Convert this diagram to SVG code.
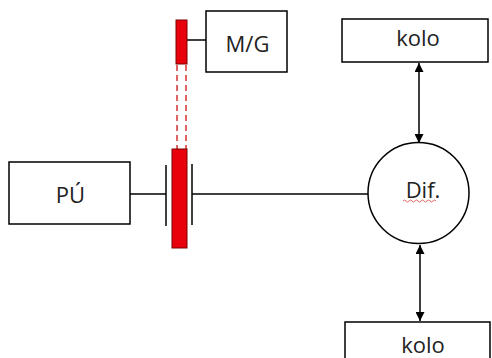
<svg xmlns="http://www.w3.org/2000/svg" width="492" height="358" viewBox="0 0 492 358">
<style>
.box{fill:#fff;stroke:#000;stroke-width:1.5}
.ln{stroke:#000;stroke-width:1.5;fill:none}
.red{fill:#e8000b;stroke:#7a0000;stroke-width:1}
.dash{stroke:#d01010;stroke-width:1.3;stroke-dasharray:6,4;fill:none}
.t{font-family:"Open Sans","Liberation Sans",sans-serif;font-size:22px;fill:#222;text-anchor:middle}
</style>
<defs>
<marker id="ah" viewBox="0 0 10 10" refX="10" refY="5" markerWidth="9" markerHeight="9" markerUnits="userSpaceOnUse" orient="auto-start-reverse">
<path d="M0,0L10,5L0,10z" fill="#000"/>
</marker>
</defs>
<rect width="492" height="358" fill="#fff"/>
<g id="connectors">
<line class="ln" x1="187" y1="40" x2="206" y2="40"/>
<line class="dash" x1="177" y1="65" x2="177" y2="149"/>
<line class="dash" x1="186" y1="65" x2="186" y2="149"/>
<line class="ln" x1="130" y1="194" x2="166" y2="194"/>
<line class="ln" x1="192" y1="194" x2="368" y2="194"/>
<line class="ln" x1="419" y1="63" x2="419" y2="143" marker-start="url(#ah)" marker-end="url(#ah)"/>
<line class="ln" x1="420" y1="245" x2="420" y2="321" marker-start="url(#ah)" marker-end="url(#ah)"/>
</g>
<g id="clutch">
<rect class="red" x="176" y="20" width="11" height="44"/>
<rect class="red" x="172" y="149" width="15" height="99"/>
<line class="ln" x1="166" y1="165" x2="166" y2="226"/>
<line class="ln" x1="192" y1="164" x2="192" y2="225"/>
</g>
<g id="mg">
<rect class="box" x="206" y="11" width="81" height="61"/>
<text class="t" x="247.5" y="52">M/G</text>
</g>
<g id="pu">
<rect class="box" x="9" y="162" width="121" height="62"/>
<text class="t" x="70.5" y="203">PÚ</text>
</g>
<g id="kolo-top">
<rect class="box" x="342" y="19" width="146" height="43"/>
<text class="t" x="418" y="46">kolo</text>
</g>
<g id="dif">
<circle class="box" cx="418.5" cy="193" r="50.5"/>
<text class="t" x="423" y="198">Dif.</text>
<path d="M403,201q1.5,-2 3,0t3,0t3,0t3,0t3,0t3,0t3,0t3,0t3,0t3,0t3,0" fill="none" stroke="#e04040" stroke-width="0.8"/>
</g>
<g id="kolo-bottom">
<rect class="box" x="345" y="322" width="145" height="45"/>
<text class="t" x="423" y="353">kolo</text>
</g>
</svg>
